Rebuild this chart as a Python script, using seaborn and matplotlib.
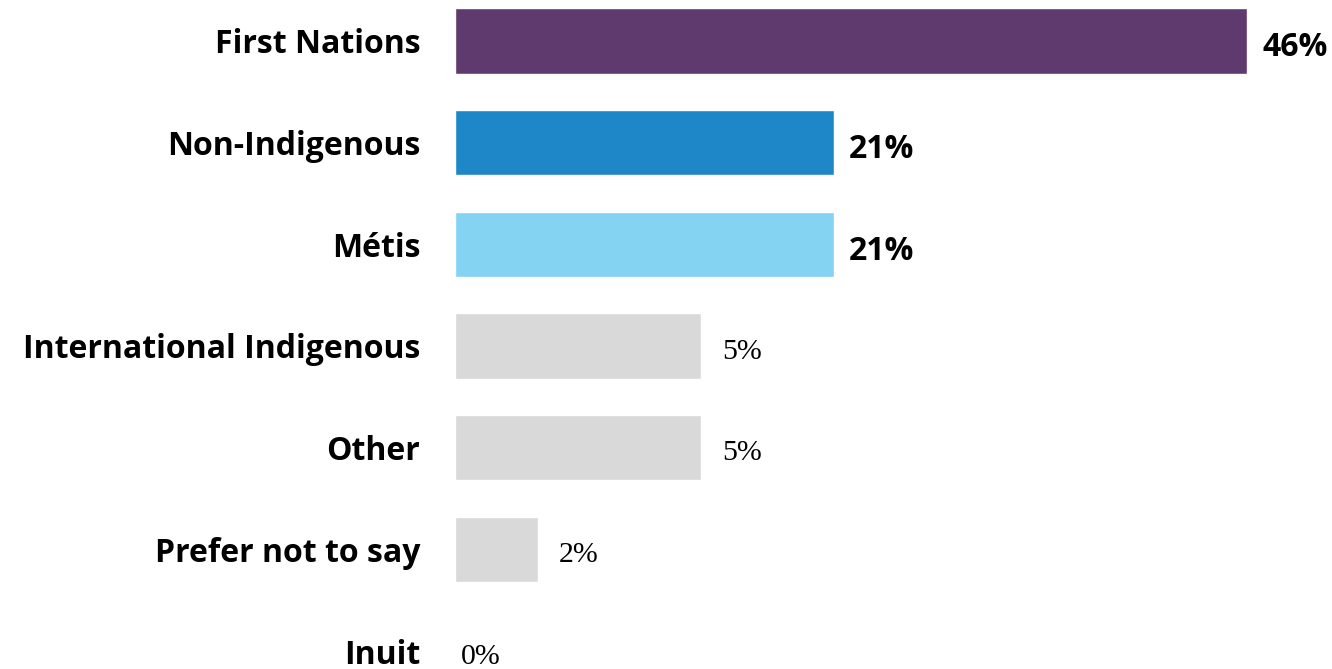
import matplotlib
matplotlib.use("Agg")
import matplotlib.pyplot as plt
import seaborn as sns
import pandas as pd

categories = ["First Nations", "Non-Indigenous", "Métis", "International Indigenous",
              "Other", "Prefer not to say", "Inuit"]
bar_values = [46, 22, 22, 14.3, 14.3, 4.8, 0]
value_labels = ["46%", "21%", "21%", "5%", "5%", "2%", "0%"]
highlight = [True, True, True, False, False, False, False]
colors = ["#5F3A6E", "#1E87C8", "#84D3F3", "#D9D9D9", "#D9D9D9", "#D9D9D9", "#D9D9D9"]

df = pd.DataFrame({"category": categories, "value": bar_values})

sns.set_style("white")
plt.rcParams["font.family"] = ["Open Sans", "DejaVu Sans"]

fig = plt.figure(figsize=(13.32, 6.69), dpi=100)
left = 455 / 1332
width = (1247 - 455) / 1332
ax = fig.add_axes([left, 0, width, 1])

sns.barplot(data=df, x="value", y="category", hue="category", palette=colors,
            order=categories, hue_order=categories, orient="h", width=0.64,
            legend=False, ax=ax, saturation=1)

ax.set_xlim(0, 46)
ax.set_ylim(6.177, -0.403)
ax.set_xlabel("")
ax.set_ylabel("")
ax.set_xticks([])
sns.despine(ax=ax, left=True, bottom=True)
ax.tick_params(axis="y", length=0, pad=25)
for lbl in ax.get_yticklabels():
    lbl.set_fontsize(23)
    lbl.set_fontweight("bold")
    lbl.set_color("black")

for i, (v, lab, hl) in enumerate(zip(bar_values, value_labels, highlight)):
    offset = 11 if v > 0 else 0
    if hl:
        ax.annotate(lab, xy=(v, i), xytext=(offset, -5), textcoords="offset points",
                    ha="left", va="center", fontsize=23, fontweight="bold",
                    family=["Open Sans", "DejaVu Sans"], color="black",
                    annotation_clip=False)
    else:
        ax.annotate(lab, xy=(v, i), xytext=(offset + 4, -4), textcoords="offset points",
                    ha="left", va="center", fontsize=21.5,
                    family=["Liberation Serif", "DejaVu Serif"], color="black",
                    annotation_clip=False)

fig.savefig("out.png", dpi=100)
